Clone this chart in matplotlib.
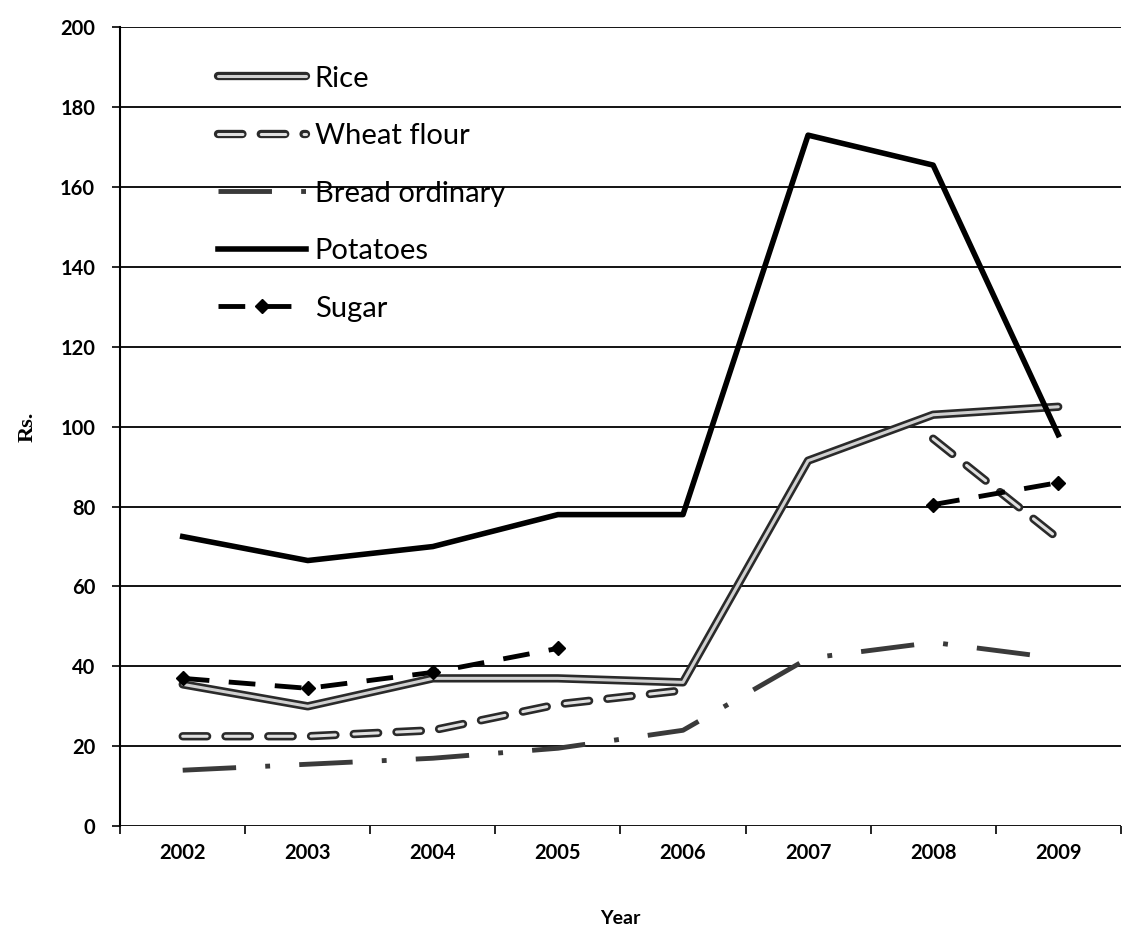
import numpy as np
import matplotlib
matplotlib.use("Agg")
from matplotlib import pyplot as plt
import matplotlib.patheffects as pe

# data (Rs.)
years = ['2002', '2003', '2004', '2005', '2006', '2007', '2008', '2009']
rice = [35.5, 30, 37, 37, 36, 91.5, 103, 105]
wheat_flour = [22.5, 22.5, 24, 30.5, 34, np.nan, 97, 72]
bread = [14, 15.5, 17, 19.5, 24, 42, 46, 42]
potatoes = [72.5, 66.5, 70, 78, 78, 173, 165.5, 98]
sugar = [37, 34.5, 38.5, 44.5, np.nan, np.nan, 80.5, 86]

plt.rcParams['font.family'] = ['Lato', 'DejaVu Sans']

fig = plt.figure(figsize=(11.23, 9.42), dpi=100)
ax = fig.add_axes([0.107, 0.123, 0.891, 0.848])
x = np.arange(len(years))

# rice: double line (dark outline, light core)
ax.plot(x, rice, color='#d0d0d0', lw=2.2, solid_capstyle='round', label='Rice',
        path_effects=[pe.Stroke(linewidth=6, foreground='#2a2a2a'), pe.Normal()], zorder=4)
# wheat flour: hollow dashes
ax.plot(x, wheat_flour, color='#e0e0e0', lw=2.2, dashes=(8, 6), dash_capstyle='round',
        label='Wheat flour',
        path_effects=[pe.Stroke(linewidth=6, foreground='#2a2a2a'), pe.Normal()], zorder=4)
ax.plot(x, bread, color='#3a3a3a', lw=3.5, dashes=(11, 6, 1, 6), label='Bread ordinary', zorder=3)
ax.plot(x, potatoes, color='black', lw=4, label='Potatoes', zorder=5)
ax.plot(x, sugar, color='black', lw=3.5, dashes=(5.5, 4), marker='D', markersize=7,
        label='Sugar', zorder=5)

ax.set_xlim(-0.5, 7.5)
ax.set_ylim(0, 200)
ax.set_yticks(np.arange(0, 201, 20))
ax.set_xticks(x)
ax.set_xticklabels(years)
ax.set_xticks(np.arange(-0.5, 8, 1), minor=True)
ax.tick_params(axis='x', which='major', length=0, pad=12)
ax.tick_params(axis='x', which='minor', length=6, width=1.2, direction='out')
ax.tick_params(axis='y', length=6, width=1.2, pad=12)
for lab in ax.get_xticklabels() + ax.get_yticklabels():
    lab.set_fontsize(14.5)
    lab.set_fontweight('bold')

ax.yaxis.grid(True, color='black', lw=1.3)
ax.set_axisbelow(True)
for s in ['top', 'right', 'bottom']:
    ax.spines[s].set_visible(False)
ax.spines['left'].set_linewidth(1.5)

ax.set_xlabel('Year', fontsize=14, fontweight='bold', labelpad=34)
ax.set_ylabel('Rs.', fontsize=16, fontweight='bold', family='Liberation Serif', labelpad=16)

ax.legend(loc='upper left', bbox_to_anchor=(0.072, 0.985), frameon=False, fontsize=21,
          handlelength=3.0, handletextpad=0.3, labelspacing=1.08)

plt.savefig('out.png', dpi=100, facecolor='white')
